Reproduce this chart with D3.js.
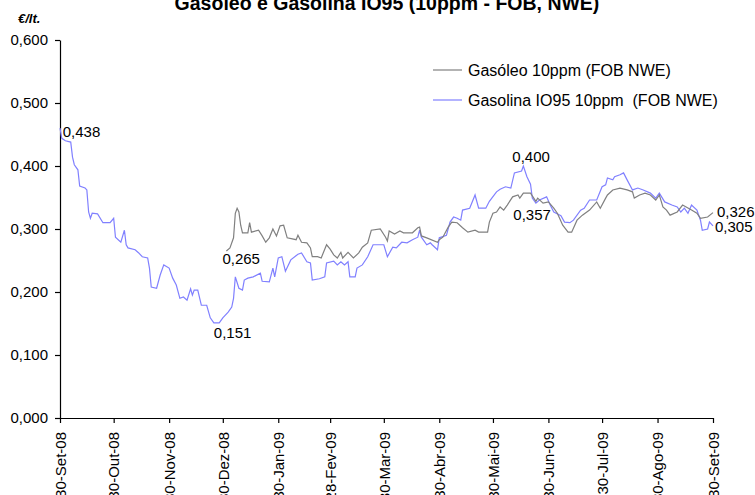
<!DOCTYPE html>
<html>
  <head>
    <meta charset="utf-8">
    <script src="https://d3js.org/d3.v7.min.js"></script>
    <title>Gasóleo e Gasolina IO95</title>
    <style>
      body { margin: 0px; background: #fff; }
      text { font-family: Arial, "Liberation Sans", sans-serif; fill: #000; }
      .tick text { font-size: 15px; }
      .title { font-size: 19.5px; font-weight: bold; }
      .unit { font-size: 13px; font-weight: bold; font-style: italic; }
      .legend text { font-size: 16px; }
      .val-label { font-size: 15px; }
    </style>
  </head>
  <body>
    <div id="chart"></div>
    <script>
      // Gasolina IO95 10ppm (FOB NWE)
      const gasolinaDates = [
        "2008-09-30","2008-10-01","2008-10-03","2008-10-06","2008-10-07","2008-10-08","2008-10-10","2008-10-11",
        "2008-10-14","2008-10-15","2008-10-16","2008-10-17","2008-10-18","2008-10-21","2008-10-24","2008-10-28",
        "2008-10-30","2008-10-31","2008-11-03","2008-11-05","2008-11-06","2008-11-07","2008-11-11","2008-11-13",
        "2008-11-15","2008-11-18","2008-11-19","2008-11-20","2008-11-23","2008-11-25","2008-11-27","2008-11-30",
        "2008-12-02","2008-12-04","2008-12-06","2008-12-08","2008-12-10","2008-12-12","2008-12-13","2008-12-14",
        "2008-12-16","2008-12-18","2008-12-21","2008-12-23","2008-12-25","2008-12-28","2008-12-30","2009-01-02",
        "2009-01-04","2009-01-05","2009-01-06","2009-01-08","2009-01-10","2009-01-11","2009-01-13","2009-01-16",
        "2009-01-20","2009-01-21","2009-01-25","2009-01-27","2009-01-28","2009-01-30","2009-02-01","2009-02-03",
        "2009-02-06","2009-02-10","2009-02-12","2009-02-15","2009-02-17","2009-02-18","2009-02-22","2009-02-25",
        "2009-02-26","2009-03-02","2009-03-04","2009-03-06","2009-03-08","2009-03-10","2009-03-11","2009-03-14",
        "2009-03-15","2009-03-18","2009-03-21","2009-03-24","2009-03-30","2009-04-01","2009-04-04","2009-04-06",
        "2009-04-09","2009-04-12","2009-04-15","2009-04-18","2009-04-19","2009-04-20","2009-04-23","2009-04-25",
        "2009-04-26","2009-04-29","2009-04-30","2009-05-04","2009-05-06","2009-05-08","2009-05-10","2009-05-12",
        "2009-05-13","2009-05-17","2009-05-20","2009-05-22","2009-05-26","2009-05-28","2009-06-01","2009-06-03",
        "2009-06-06","2009-06-09","2009-06-11","2009-06-15","2009-06-16","2009-06-18","2009-06-20","2009-06-21",
        "2009-06-23","2009-06-25","2009-06-29","2009-07-01","2009-07-03","2009-07-07","2009-07-09","2009-07-12",
        "2009-07-14","2009-07-18","2009-07-20","2009-07-23","2009-07-27","2009-07-30","2009-08-01","2009-08-02",
        "2009-08-05","2009-08-06","2009-08-09","2009-08-11","2009-08-13","2009-08-16","2009-08-19","2009-08-22",
        "2009-08-26","2009-08-29","2009-08-31","2009-09-03","2009-09-07","2009-09-10","2009-09-12","2009-09-14",
        "2009-09-16","2009-09-18","2009-09-21","2009-09-23","2009-09-24","2009-09-27","2009-09-28","2009-09-30"
      ];
      const gasolinaValues = [
        0.460,0.444,0.440,0.438,0.414,0.402,0.394,0.368,
        0.365,0.362,0.327,0.317,0.325,0.324,0.310,0.310,
        0.317,0.287,0.279,0.298,0.275,0.270,0.267,0.262,
        0.256,0.254,0.238,0.208,0.206,0.227,0.243,0.238,
        0.222,0.211,0.190,0.192,0.187,0.205,0.195,0.203,
        0.203,0.179,0.179,0.159,0.151,0.151,0.159,0.168,
        0.176,0.190,0.224,0.206,0.203,0.219,0.222,0.224,
        0.230,0.217,0.216,0.238,0.224,0.254,0.256,0.233,
        0.251,0.260,0.262,0.248,0.246,0.219,0.221,0.224,
        0.246,0.249,0.243,0.248,0.243,0.248,0.224,0.224,
        0.238,0.243,0.256,0.275,0.275,0.256,0.271,0.270,
        0.279,0.278,0.283,0.287,0.298,0.287,0.275,0.278,
        0.275,0.267,0.286,0.290,0.311,0.319,0.317,0.314,
        0.330,0.333,0.354,0.333,0.333,0.344,0.359,0.363,
        0.367,0.365,0.389,0.392,0.400,0.383,0.371,0.349,
        0.341,0.346,0.351,0.338,0.327,0.321,0.311,0.310,
        0.314,0.330,0.333,0.346,0.346,0.367,0.370,0.381,
        0.378,0.383,0.386,0.389,0.378,0.362,0.365,0.362,
        0.357,0.349,0.357,0.343,0.338,0.335,0.327,0.333,
        0.325,0.338,0.330,0.314,0.298,0.300,0.311,0.305
      ];

      // Gasóleo 10ppm (FOB NWE), starts in January
      const gasoleoDates = [
        "2009-01-01","2009-01-03","2009-01-05","2009-01-06","2009-01-07","2009-01-08","2009-01-09","2009-01-10",
        "2009-01-13","2009-01-14","2009-01-15","2009-01-19","2009-01-21","2009-01-23","2009-01-25","2009-01-27",
        "2009-01-29","2009-01-31","2009-02-02","2009-02-04","2009-02-09","2009-02-10","2009-02-12","2009-02-15",
        "2009-02-17","2009-02-18","2009-02-21","2009-02-23","2009-02-26","2009-02-28","2009-03-02","2009-03-04",
        "2009-03-06","2009-03-07","2009-03-10","2009-03-13","2009-03-16","2009-03-18","2009-03-21","2009-03-23",
        "2009-03-28","2009-03-31","2009-04-01","2009-04-02","2009-04-05","2009-04-08","2009-04-10","2009-04-15",
        "2009-04-18","2009-04-19","2009-04-20","2009-04-23","2009-04-29","2009-04-30","2009-05-02","2009-05-05",
        "2009-05-07","2009-05-10","2009-05-13","2009-05-16","2009-05-20","2009-05-22","2009-05-27","2009-05-28",
        "2009-05-30","2009-06-01","2009-06-03","2009-06-05","2009-06-07","2009-06-10","2009-06-13","2009-06-14",
        "2009-06-16","2009-06-20","2009-06-23","2009-06-24","2009-06-27","2009-06-30","2009-07-03","2009-07-05",
        "2009-07-08","2009-07-11","2009-07-13","2009-07-16","2009-07-19","2009-07-23","2009-07-27","2009-07-29",
        "2009-08-01","2009-08-02","2009-08-05","2009-08-09","2009-08-13","2009-08-16","2009-08-17","2009-08-20",
        "2009-08-23","2009-08-26","2009-08-29","2009-08-31","2009-09-02","2009-09-04","2009-09-06","2009-09-10",
        "2009-09-13","2009-09-15","2009-09-18","2009-09-21","2009-09-23","2009-09-27","2009-09-30"
      ];
      const gasoleoValues = [
        0.265,0.270,0.286,0.325,0.333,0.327,0.306,0.294,
        0.294,0.310,0.295,0.298,0.289,0.279,0.286,0.300,
        0.289,0.305,0.306,0.286,0.283,0.290,0.279,0.278,
        0.270,0.256,0.256,0.254,0.275,0.268,0.259,0.254,
        0.263,0.254,0.263,0.254,0.262,0.271,0.278,0.298,
        0.300,0.287,0.281,0.297,0.292,0.297,0.294,0.294,
        0.302,0.303,0.289,0.286,0.279,0.283,0.287,0.303,
        0.311,0.310,0.302,0.295,0.298,0.295,0.295,0.311,
        0.325,0.327,0.335,0.330,0.338,0.351,0.354,0.349,
        0.357,0.357,0.344,0.349,0.341,0.343,0.333,0.325,
        0.306,0.295,0.295,0.314,0.322,0.330,0.343,0.333,
        0.349,0.354,0.362,0.365,0.362,0.359,0.349,0.354,
        0.357,0.354,0.346,0.354,0.335,0.330,0.322,0.327,
        0.338,0.335,0.330,0.325,0.317,0.319,0.326
      ];

      const seriesNames = ["Gasóleo 10ppm (FOB NWE)", "Gasolina IO95 10ppm  (FOB NWE)"];
      const seriesColors = ["#808080", "#8080ff"];

      const tickDates = ["2008-09-30","2008-10-30","2008-11-30","2008-12-30","2009-01-30","2009-02-28",
                         "2009-03-30","2009-04-30","2009-05-30","2009-06-30","2009-07-30","2009-08-30","2009-09-30"];
      const tickLabels = ["30-Set-08","30-Out-08","30-Nov-08","30-Dez-08","30-Jan-09","28-Fev-09",
                          "30-Mar-09","30-Abr-09","30-Mai-09","30-Jun-09","30-Jul-09","30-Ago-09","30-Set-09"];
      const yTicks = [0, 0.1, 0.2, 0.3, 0.4, 0.5, 0.6];

      // labelled points: series index, date, value
      const labelSeries = [1, 0, 1, 1, 0, 0, 1];
      const labelDates = ["2008-10-06","2009-01-01","2008-12-25","2009-06-16","2009-06-16","2009-09-30","2009-09-30"];
      const labelValues = [0.438, 0.265, 0.151, 0.400, 0.357, 0.326, 0.305];

      const width = 755, height = 495;
      const margin = { left: 60, right: 42, top: 40, bottom: 77 };

      const parse = d3.timeParse("%Y-%m-%d");
      const pt = d3.formatLocale({ decimal: ",", thousands: ".", grouping: [3], currency: ["€", ""] });
      const fmt = pt.format(".3f");

      const svg = d3.select("#chart").append("svg")
        .attr("width", width)
        .attr("height", height);

      const xScale = d3.scaleTime()
        .domain([parse("2008-09-30"), parse("2009-09-30")])
        .range([margin.left, width - margin.right]);
      const yScale = d3.scaleLinear()
        .domain([0, 0.6])
        .range([height - margin.bottom, margin.top]);

      const xAxis = d3.axisBottom(xScale)
        .tickValues(tickDates.map(parse))
        .tickFormat((d, i) => tickLabels[i])
        .tickSize(5)
        .tickSizeOuter(0);
      const yAxis = d3.axisLeft(yScale)
        .tickValues(yTicks)
        .tickFormat(fmt)
        .tickSize(5)
        .tickSizeOuter(0);

      const xAxisG = svg.append("g")
        .attr("transform", `translate(0,${height - margin.bottom})`)
        .call(xAxis);
      xAxisG.selectAll(".tick text")
        .attr("transform", "rotate(-90)")
        .attr("text-anchor", "end")
        .attr("x", -14)
        .attr("y", 0)
        .attr("dy", "0.35em");

      const yAxisG = svg.append("g")
        .attr("transform", `translate(${margin.left},0)`)
        .call(yAxis);
      yAxisG.selectAll(".tick text").attr("x", -12);

      svg.selectAll(".domain, .tick line").attr("stroke", "#000").attr("stroke-width", 1.2);

      // lines
      const line = d3.line()
        .x(d => xScale(d.date))
        .y(d => yScale(d.value));

      const gasoleo = gasoleoDates.map((d, i) => ({ date: parse(d), value: gasoleoValues[i] }));
      const gasolina = gasolinaDates.map((d, i) => ({ date: parse(d), value: gasolinaValues[i] }));

      svg.append("path").datum(gasolina)
        .attr("fill", "none")
        .attr("stroke", seriesColors[1])
        .attr("stroke-width", 1.2)
        .attr("d", line);
      svg.append("path").datum(gasoleo)
        .attr("fill", "none")
        .attr("stroke", seriesColors[0])
        .attr("stroke-width", 1.2)
        .attr("d", line);

      // value labels
      const labelDx = [-8, -4, 0, -11, -10, 4, 2];
      const labelDy = [-5, 13, 15, -4, 27, 4, 6];
      svg.selectAll(".val-label").data(labelValues).enter().append("text")
        .attr("class", "val-label")
        .attr("x", (d, i) => xScale(parse(labelDates[i])) + labelDx[i])
        .attr("y", (d, i) => yScale(d) + labelDy[i])
        .text(d => fmt(d));

      // legend
      const legend = svg.append("g").attr("class", "legend");
      seriesNames.forEach((name, i) => {
        const y = 70 + i * 30;
        legend.append("line")
          .attr("x1", 433).attr("x2", 462)
          .attr("y1", y).attr("y2", y)
          .attr("stroke", seriesColors[i])
          .attr("stroke-width", 1.2);
        legend.append("text")
          .attr("x", 468).attr("y", y + 5.5)
          .attr("xml:space", "preserve")
          .style("white-space", "pre")
          .text(name);
      });

      // title and unit
      svg.append("text")
        .attr("class", "title")
        .attr("x", 387).attr("y", 10)
        .attr("text-anchor", "middle")
        .text("Gasóleo e Gasolina IO95 (10ppm - FOB, NWE)");
      svg.append("text")
        .attr("class", "unit")
        .attr("x", 18).attr("y", 23)
        .text("€/lt.");
    </script>
  </body>
</html>
